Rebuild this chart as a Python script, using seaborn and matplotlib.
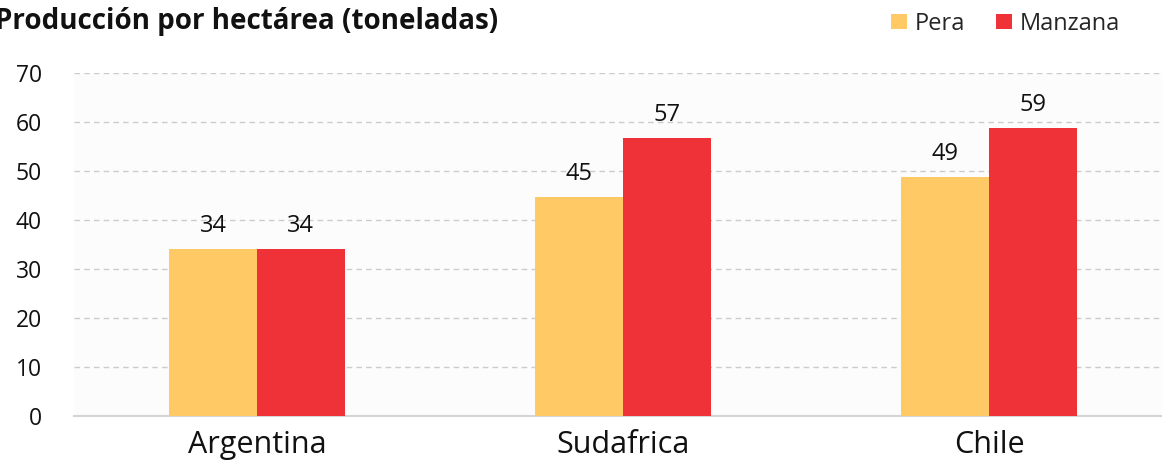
import pandas as pd
import matplotlib
matplotlib.use("Agg")
import matplotlib.pyplot as plt
import seaborn as sns

# datos
paises = ["Argentina", "Sudafrica", "Chile"]
pera = [34.1, 44.6, 48.8]
manzana = [34.1, 56.8, 58.8]
etiquetas_pera = ["34", "45", "49"]
etiquetas_manzana = ["34", "57", "59"]
yticks = [0, 10, 20, 30, 40, 50, 60, 70]

df = pd.DataFrame({
    "pais": paises * 2,
    "fruta": ["Pera"] * 3 + ["Manzana"] * 3,
    "valor": pera + manzana,
})

sns.set_style("white")
plt.rcParams["font.family"] = ["Open Sans", "DejaVu Sans"]

fig = plt.figure(figsize=(11.62, 4.72), dpi=100)
ax = fig.add_axes([74 / 1162, 56 / 472, 1098 / 1162, (416 - 73) / 472])
ax.set_facecolor("#fcfcfc")

colores = {"Pera": "#ffc966", "Manzana": "#ee3238"}
sns.barplot(data=df, x="pais", y="valor", hue="fruta", palette=colores,
            width=0.48, saturation=1, linewidth=0, ax=ax, zorder=3)

for cont, etq in zip(ax.containers, [etiquetas_pera, etiquetas_manzana]):
    ax.bar_label(cont, labels=etq, padding=8, fontsize=17, color="#111111")

ax.set_ylim(0, 70)
ax.set_xlim(-0.5, 2.5)
ax.set_yticks(yticks)
ax.yaxis.grid(True, linestyle=(0, (4, 3)), color="#cccccc", linewidth=1, zorder=0)
ax.tick_params(axis="y", labelsize=16.5, length=0, pad=23, labelcolor="#111111")
ax.tick_params(axis="x", labelsize=22, length=0, pad=10, labelcolor="#111111")
ax.set_xlabel("")
ax.set_ylabel("")
for s in ["top", "left", "right"]:
    ax.spines[s].set_visible(False)
ax.spines["bottom"].set_color("#d4d4d4")
ax.spines["bottom"].set_linewidth(1.5)

leg = ax.legend(loc="upper right", bbox_to_anchor=(0.972, 0.995),
                bbox_transform=fig.transFigure, ncol=2, frameon=False,
                fontsize=17, handlelength=0.65, handleheight=0.65, handletextpad=0.35,
                columnspacing=1.3, borderaxespad=0)

fig.text(-0.004, 0.955, "Producción por hectárea (toneladas)", fontsize=20,
         fontweight="bold", ha="left", va="center", color="#111111")

fig.savefig("out.png", dpi=100, facecolor="white")
